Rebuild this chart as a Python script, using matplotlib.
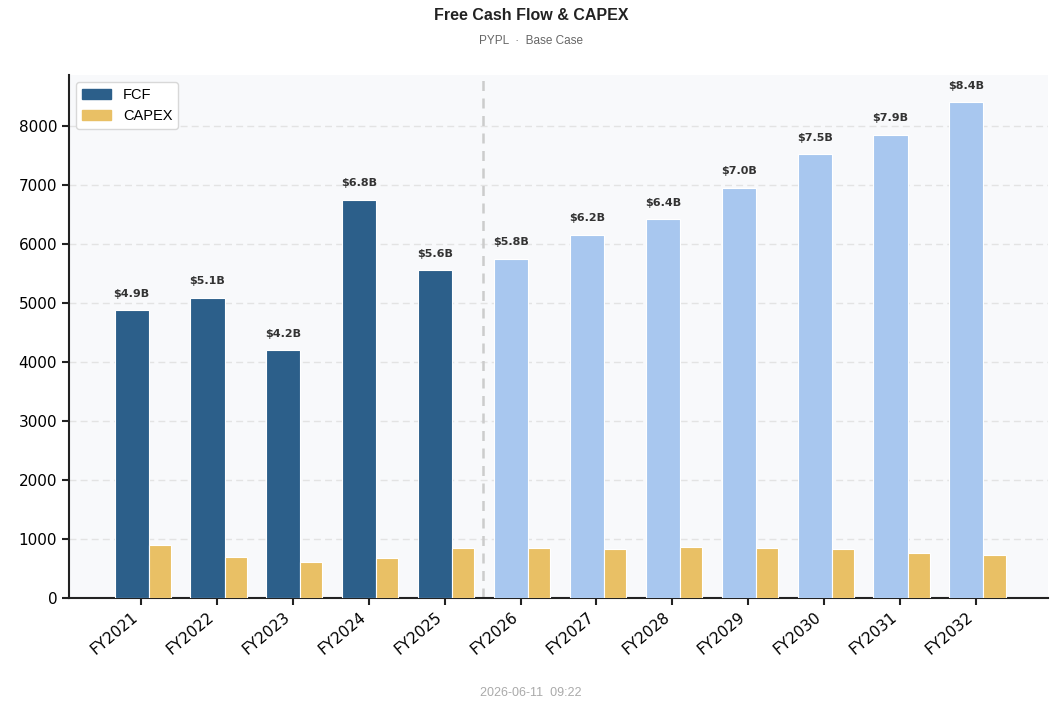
import numpy as np
import matplotlib
matplotlib.use("Agg")
import matplotlib.pyplot as plt

years = ['FY2021', 'FY2022', 'FY2023', 'FY2024', 'FY2025', 'FY2026',
         'FY2027', 'FY2028', 'FY2029', 'FY2030', 'FY2031', 'FY2032']
fcf = [4876, 5096, 4198, 6757, 5554, 5755, 6164, 6424, 6960, 7525, 7860, 8407]
capex = [893, 689, 605, 672, 842, 845, 829, 863, 846, 829, 760, 726]
n_hist = 5  # FY2021..FY2025 are actuals

dark_blue = '#2c5f8a'
light_blue = '#a8c7ef'
gold = '#e9c065'

fig = plt.figure(figsize=(10.62, 7.07), dpi=100)
ax = fig.add_axes([69/1062, 1 - 598/707, (1048-69)/1062, (598-75)/707])
ax.set_facecolor('#f8f9fb')

x = np.arange(len(years))
fcf_colors = [dark_blue if i < n_hist else light_blue for i in range(len(years))]
ax.bar(x - 0.125, fcf, width=0.45, color=fcf_colors, edgecolor='white', linewidth=0.8, zorder=3)
ax.bar(x + 0.245, capex, width=0.29, color=gold, edgecolor='white', linewidth=0.8, zorder=3)

ymax = max(fcf) * 1.055
for xi, v in zip(x, fcf):
    ax.text(xi - 0.125, v + ymax * 0.022, '${:.1f}B'.format(v / 1000), ha='center', va='bottom',
            fontsize=8, fontweight='bold', color='#333333', zorder=4)

ax.axvline(n_hist - 0.5, color='#cccccc', linestyle=(0, (4, 3)), linewidth=1.8, zorder=2)

ax.set_xlim(-0.95, len(years) - 0.05)
ax.set_ylim(0, ymax)
ax.set_xticks(x)
ax.set_xticklabels(years, rotation=40, ha='right', fontsize=11)
ax.tick_params(axis='y', labelsize=11)
ax.tick_params(length=5, width=1.5, color='#222222')
ax.yaxis.grid(True, color='#e3e3e3', linestyle=(0, (5, 3)), linewidth=1.0, zorder=0)
ax.set_axisbelow(True)
for s in ['top', 'right']:
    ax.spines[s].set_visible(False)
for s in ['left', 'bottom']:
    ax.spines[s].set_color('#222222')
    ax.spines[s].set_linewidth(1.5)

handles = [plt.Rectangle((0, 0), 1, 1, color=dark_blue), plt.Rectangle((0, 0), 1, 1, color=gold)]
ax.legend(handles, ['FCF', 'CAPEX'], loc='upper left', frameon=True,
          edgecolor='#d8d8d8', facecolor='white', framealpha=1, handlelength=2.0,
          borderaxespad=0.5, prop={'family': 'Liberation Sans', 'size': 10.5})

fig.text(0.5, 1 - 16/707, 'Free Cash Flow & CAPEX', ha='center', va='center',
         fontsize=11.5, fontweight='bold', family='Liberation Sans', color='#222222')
fig.text(0.5, 1 - 41/707, 'PYPL  \u00b7  Base Case', ha='center', va='center',
         fontsize=8.5, family='Liberation Sans', color='#666666')
fig.text(0.5, 1 - 693/707, '2026-06-11  09:22', ha='center', va='center',
         fontsize=9, family='Liberation Sans', color='#aaaaaa')

fig.savefig('out.png', dpi=100)
